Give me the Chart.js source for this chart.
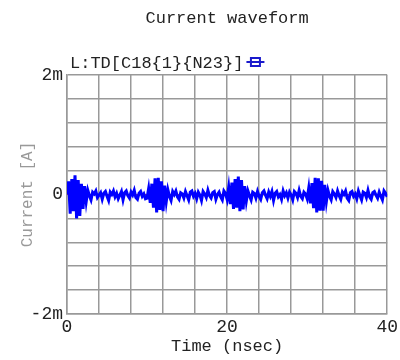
<!DOCTYPE html>
<html>
<head>
<meta charset="utf-8">
<script src="https://cdn.jsdelivr.net/npm/chart.js@4/dist/chart.umd.min.js"></script>
<style>
  html, body { margin: 0; padding: 0; background: #fff; }
  #wrap { width: 400px; height: 360px; }
</style>
</head>
<body>
<div id="wrap"><canvas id="waveChart"></canvas></div>
<script>
//-------------------chart data--------------------
const chartTitle = "Current waveform";
const seriesLabel = "L:TD[C18{1}{N23}]";
const xTitle = "Time (nsec)";
const yTitle = "Current [A]";
const xTickLabels = { 0: "0", 20: "20", 40: "40" };
const yTickLabels = { "-2": "-2m", "0": "0", "2": "2m" };
const sampleStep = 0.2; // nsec between samples
// current in mA, one value every 0.2 nsec from 0 to 40 nsec
const currentValues = [
  0.00, 0.22, -0.32, 0.26, -0.28, 0.32, -0.40, 0.24, -0.36, 0.18,
  -0.24, 0.14, -0.12, 0.07, -0.02, -0.09, 0.04, 0.01, 0.06, -0.05,
  -0.01, 0.03, -0.08, 0.02, 0.05, -0.03, -0.10, 0.04, 0.00, 0.06,
  -0.04, 0.02, -0.07, -0.01, 0.05, -0.09, 0.03, 0.06, -0.02, -0.06,
  0.04, -0.01, 0.07, -0.05, -0.08, 0.02, 0.05, -0.03, 0.01, -0.07,
  -0.06, 0.10, -0.14, 0.18, -0.22, 0.27, -0.30, 0.28, -0.26, 0.22,
  -0.28, 0.15, -0.12, 0.08, -0.03, -0.10, 0.05, 0.00, 0.06, -0.04,
  -0.08, 0.03, 0.01, -0.06, 0.05, -0.02, -0.09, 0.04, 0.06, -0.03,
  0.02, -0.07, 0.04, -0.01, -0.10, 0.05, 0.01, -0.05, 0.07, -0.02,
  -0.06, 0.03, 0.05, -0.08, 0.00, 0.04, -0.04, -0.09, 0.06, 0.02,
  -0.08, 0.12, -0.16, 0.20, -0.24, 0.26, -0.22, 0.30, -0.28, 0.24,
  -0.25, 0.14, -0.11, 0.06, -0.02, -0.09, 0.04, 0.02, -0.06, 0.05,
  -0.03, -0.08, 0.03, 0.06, -0.01, -0.07, 0.04, -0.03, 0.05, -0.10,
  0.02, 0.05, -0.04, 0.00, -0.08, 0.06, -0.02, 0.03, -0.06, 0.04,
  -0.01, -0.09, 0.05, 0.02, -0.05, 0.07, -0.03, -0.07, 0.04, 0.01,
  -0.07, 0.11, -0.15, 0.19, -0.23, 0.28, -0.30, 0.27, -0.27, 0.23,
  -0.27, 0.16, -0.12, 0.07, -0.03, -0.09, 0.05, 0.01, -0.05, 0.06,
  -0.02, -0.08, 0.04, 0.00, 0.06, -0.06, -0.10, 0.03, 0.05, -0.03,
  0.01, -0.07, 0.06, -0.02, -0.09, 0.04, 0.02, -0.05, 0.07, -0.04,
  -0.08, 0.03, 0.05, -0.01, -0.06, 0.04, -0.03, -0.09, 0.06, 0.02,
  -0.04
];
const zeroLine = [0, 0];
const zeroTimes = [0, 40];
//-------------------chart data--------------------

const monoFont = '"Liberation Mono", "DejaVu Sans Mono", monospace';

const wavePoints = currentValues.map((v, i) => ({ x: i * sampleStep, y: v }));
const zeroPoints = zeroTimes.map((t, i) => ({ x: t, y: zeroLine[i] }));

// title + legend drawn above the plot, centred on the plot area
const headerPlugin = {
  id: "header",
  afterDraw(chart) {
    const { ctx, chartArea } = chart;
    ctx.save();
    ctx.font = "17px " + monoFont;
    ctx.fillStyle = "#222";
    ctx.textBaseline = "middle";
    ctx.textAlign = "center";
    ctx.fillText(chartTitle, (chartArea.left + chartArea.right) / 2, 18);

    ctx.textAlign = "left";
    const lx = chartArea.left + 3;
    const ly = 63;
    ctx.fillText(chart.data.datasets[0].label, lx, ly);
    const w = ctx.measureText(chart.data.datasets[0].label).width;

    // line + square marker
    const mx = lx + w + 3;
    ctx.strokeStyle = "#1a1acc";
    ctx.lineWidth = 2;
    ctx.beginPath();
    ctx.moveTo(mx, ly - 1);
    ctx.lineTo(mx + 18, ly - 1);
    ctx.stroke();
    ctx.strokeRect(mx + 4.5, ly - 5, 9, 8);
    ctx.restore();
  },
};

const ctx = document.getElementById("waveChart").getContext("2d");
const waveChart = new Chart(ctx, {
  type: "line",
  data: {
    datasets: [
      {
        label: seriesLabel,
        data: wavePoints,
        borderColor: "#0000ff",
        borderWidth: 3,
        pointRadius: 0,
        tension: 0,
      },
      {
        label: "zero",
        data: zeroPoints,
        borderColor: "#e03030",
        borderWidth: 1,
        pointRadius: 0,
      },
    ],
  },
  options: {
    responsive: true,
    maintainAspectRatio: false,
    animation: false,
    layout: {
      padding: { top: 75, right: 12, left: 0, bottom: 0 },
    },
    plugins: {
      legend: { display: false },
      tooltip: { enabled: false },
      title: { display: false },
    },
    scales: {
      x: {
        type: "linear",
        min: 0,
        max: 40,
        border: { color: "#999", width: 1.5 },
        grid: { color: "#999", lineWidth: 1.5, drawTicks: false },
        ticks: {
          stepSize: 4,
          autoSkip: false,
          maxRotation: 0,
          padding: 2,
          color: "#222",
          font: { family: monoFont, size: 18 },
          callback: (v) => xTickLabels[Math.round(v)] !== undefined && Math.abs(v - Math.round(v)) < 1e-6 ? xTickLabels[Math.round(v)] : "",
        },
        title: {
          display: true,
          text: xTitle,
          color: "#222",
          font: { family: monoFont, size: 17 },
          padding: { top: 0, bottom: 3 },
        },
        afterFit: (scale) => {
          scale.height = 46;
        },
      },
      y: {
        type: "linear",
        min: -2,
        max: 2,
        border: { color: "#999", width: 1.5 },
        grid: { color: "#999", lineWidth: 1.5, drawTicks: false },
        ticks: {
          stepSize: 0.4,
          autoSkip: false,
          padding: 4,
          color: "#222",
          font: { family: monoFont, size: 18 },
          callback: (v) => {
            const r = Math.round(v);
            return Math.abs(v - r) < 1e-6 && yTickLabels[String(r)] ? yTickLabels[String(r)] : "";
          },
        },
        title: {
          display: true,
          text: yTitle,
          color: "#999",
          font: { family: monoFont, size: 16 },
          padding: { top: 18, bottom: 0 },
        },
        afterFit: (scale) => {
          scale.width = 67;
        },
      },
    },
  },
  plugins: [headerPlugin],
});
</script>
</body>
</html>
